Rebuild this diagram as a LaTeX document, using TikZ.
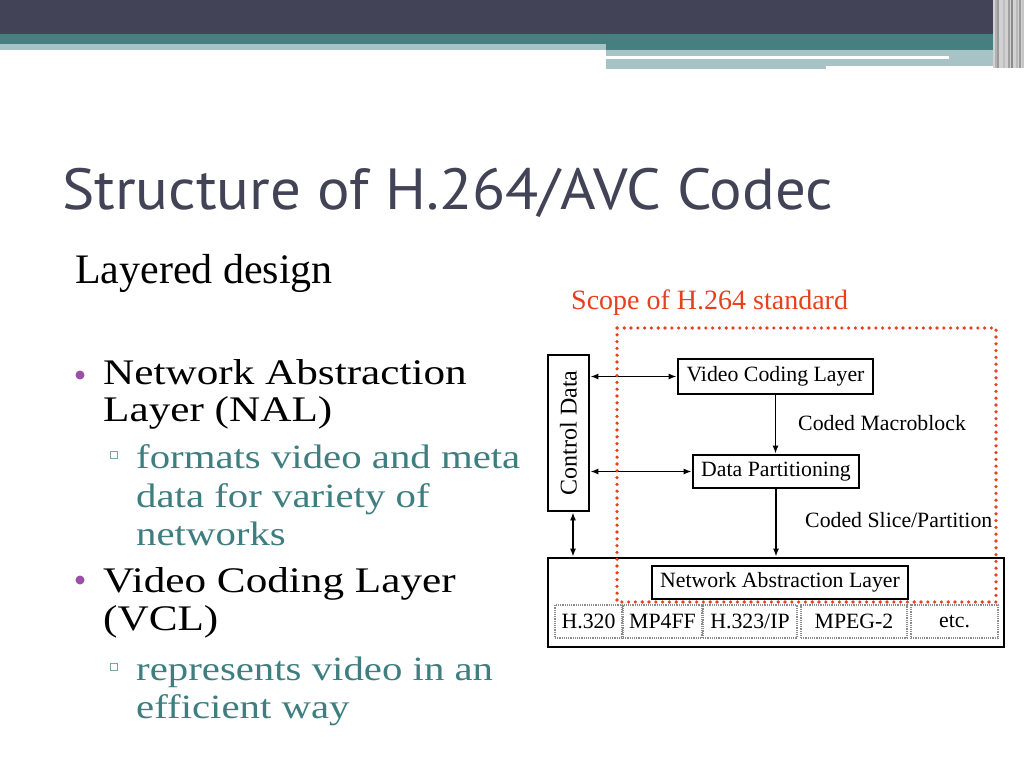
\documentclass[tikz,border=0pt]{standalone}
\usepackage{tikz}
\usepackage{xcolor}
\usepackage{fontspec}
\setmainfont{Liberation Serif}
\newfontfamily\titlefont[FakeStretch=1.05]{PT Sans}
\newfontfamily\bodyfont[FakeStretch=1.2]{Liberation Serif}
\usetikzlibrary{shapes.geometric, arrows, arrows.meta}
\definecolor{headdark}{HTML}{424356}
\definecolor{headteal}{HTML}{457F80}
\definecolor{headlight}{HTML}{A8C3C5}
\definecolor{subteal}{HTML}{3F7E80}
\definecolor{bulletpurple}{HTML}{9B4FA6}
\definecolor{scopered}{HTML}{E8401F}

\begin{document}
\begin{tikzpicture}[x=1pt,y=-1pt,
  box/.style={draw=black, line width=2.6pt, inner sep=0pt, font=\fontsize{21.8}{24}\selectfont},
  cell/.style={draw=black!45, densely dotted, line width=1.2pt, inner sep=0pt, minimum height=33pt, font=\fontsize{21.8}{24}\selectfont},
  lbl/.style={anchor=west, inner sep=0pt, font=\fontsize{21.8}{24}\selectfont},
  duplex/.style={line width=1.8pt, {Latex[length=8pt,width=6pt]}-{Latex[length=8pt,width=6pt]}},
  flow/.style={line width=1.8pt, -{Latex[length=8pt,width=6pt]}},
  scopeline/.style={draw=scopered, line width=3.6pt, line cap=round, dash pattern=on 0pt off 6.8pt},
  mainitem/.style={anchor=base west, inner sep=0pt, font=\bodyfont\fontsize{36}{40}\selectfont},
  subitem/.style={anchor=base west, inner sep=0pt, text=subteal, font=\bodyfont\fontsize{34}{38}\selectfont},
  bulletdot/.style={circle, fill=bulletpurple, minimum size=9pt, inner sep=0pt},
  bulletsq/.style={rectangle, draw=subteal!70, line width=0.8pt, minimum size=7pt, inner sep=0pt}]
\useasboundingbox[fill=white] (0,0) rectangle (1024,768);
\fill[headdark] (0,0) rectangle (1024,34);
\fill[headteal] (0,34) rectangle (1024,44);
\fill[headlight] (0,44) rectangle (606,50);
\fill[headteal] (606,44) rectangle (1000,50);
\fill[headlight] (606,50) rectangle (1000,66);
\fill[headlight] (606,66) rectangle (826,69);
\fill[white] (606,56) rectangle (949,59);
\fill[gray!35] (993,0) rectangle (1024,68);
\foreach \sx/\sc in {995/gray!60, 997/gray!80, 1003/gray!50, 1008/gray!75, 1011/gray!90, 1016/gray!55, 1019/gray!80, 1022/gray!45}
  \fill[\sc] (\sx,0) rectangle (\sx+1.5,68);

\node[anchor=base west, inner sep=0pt, text=headdark, font=\titlefont\fontsize{58}{64}\selectfont] (title) at (62,209) {Structure of H.264/AVC Codec};
\node[anchor=base west, inner sep=0pt, font=\fontsize{42}{46}\selectfont] (layered) at (75,283) {Layered design};

\node[bulletdot] (b1) at (80,375) {};
\node[mainitem] (nal1) at (103,384) {Network Abstraction};
\node[mainitem] (nal2) at (103,421) {Layer (NAL)};
\node[bulletsq] (s1) at (114,455) {};
\node[subitem] (nalsub1) at (136,468) {formats video and meta};
\node[subitem] (nalsub2) at (136,507) {data for variety of};
\node[subitem] (nalsub3) at (136,545) {networks};
\node[bulletdot] (b2) at (80,580) {};
\node[mainitem] (vcl1) at (103,592) {Video Coding Layer};
\node[mainitem] (vcl2) at (103,630) {(VCL)};
\node[bulletsq] (s2) at (114,667) {};
\node[subitem] (vclsub1) at (136,680) {represents video in an};
\node[subitem] (vclsub2) at (136,718) {efficient way};

\node[anchor=base west, inner sep=0pt, text=scopered, font=\fontsize{28}{32}\selectfont] (scopelabel) at (571,309) {Scope of H.264 standard};

\node[box, minimum width=41pt, minimum height=156pt, font=\fontsize{24}{26}\selectfont] (ctrl) at (568.5,433) {\rotatebox{90}{Control Data}};
\node[box, minimum width=195pt, minimum height=35pt] (vcl) at (775.5,376.5) {Video Coding Layer};
\node[box, minimum width=166pt, minimum height=33pt] (dp) at (776,471.5) {Data Partitioning};
\node[box, minimum width=456pt, minimum height=89pt] (nalbox) at (776,602.5) {};
\node[box, minimum width=256pt, minimum height=33pt] (nal) at (780,582.5) {Network Abstraction Layer};
\node[cell, minimum width=67pt] (h320) at (588.5,621.5) {H.320};
\node[cell, minimum width=79pt] (mp4ff) at (662.5,621.5) {MP4FF};
\node[cell, minimum width=94pt] (h323) at (750,621.5) {H.323/IP};
\node[cell, minimum width=106pt] (mpeg2) at (854,621.5) {MPEG-2};
\node[cell, minimum width=87pt] (etc) at (954.5,621.5) {etc.};
\node[lbl] (mblabel) at (798,423) {Coded Macroblock};
\node[lbl] (slicelabel) at (805,520) {Coded Slice/Partition};

\draw[flow] (vcl.south) -- (vcl.south |- dp.north);
\draw[flow] (dp.south) -- (dp.south |- nalbox.north);
\draw[duplex] (ctrl.east |- vcl.west) -- (vcl.west);
\draw[duplex] (ctrl.east |- dp.west) -- (dp.west);
\draw[duplex] ([xshift=4.5pt]ctrl.south) -- ([xshift=4.5pt]ctrl.south |- nalbox.north);

\draw[scopeline] (617,328) rectangle (996,602);
\end{tikzpicture}
\end{document}
